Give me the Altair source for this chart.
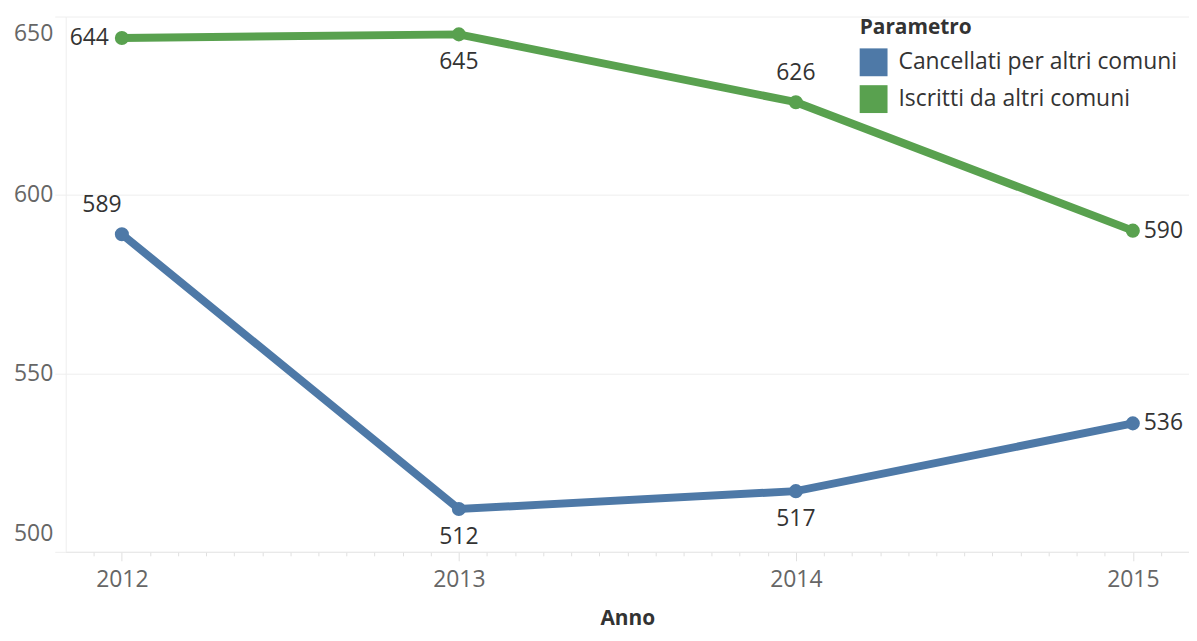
import altair as alt
import pandas as pd

years = [2012, 2013, 2014, 2015]
series_names = ["Cancellati per altri comuni", "Iscritti da altri comuni"]
cancellati = [589, 512, 517, 536]
iscritti = [644, 645, 626, 590]
colors = ["#4e79a7", "#59a14f"]

rows = []
for y, v in zip(years, cancellati):
    rows.append({"Anno": y, "Parametro": series_names[0], "Valore": v})
for y, v in zip(years, iscritti):
    rows.append({"Anno": y, "Parametro": series_names[1], "Valore": v})
df = pd.DataFrame(rows)

# monthly tick positions along the x axis
tick_values = [round(2011 + m / 12, 6) for m in range(10, 12)] + \
    [round(y + m / 12, 6) for y in range(2012, 2015) for m in range(12)] + \
    [round(2015 + m / 12, 6) for m in range(0, 3)]

FONT = "Open Sans"
is_year = "abs(datum.value - round(datum.value)) < 0.001"

x_enc = alt.X(
    "Anno:Q",
    scale=alt.Scale(domain=[2011 + 10 / 12, 2015 + 2 / 12], nice=False, zero=False),
    axis=alt.Axis(
        title="Anno",
        values=tick_values,
        labelExpr=f"{is_year} ? format(datum.value, 'd') : ''",
        grid=False,
        domain=True,
        domainColor="#e6e6e6",
        ticks=True,
        tickColor="#e0e0e0",
        tickSize={"condition": {"test": is_year, "value": 9}, "value": 4},
        labelPadding=8,
        labelFont=FONT,
        labelFontSize=23,
        labelColor="#666666",
        titleFont=FONT,
        titleFontSize=21,
        titleFontWeight="bold",
        titleColor="#333333",
        titlePadding=16,
        labelOverlap=False,
    ),
)
y_enc = alt.Y(
    "Valore:Q",
    scale=alt.Scale(domain=[500, 650], nice=False, zero=False),
    axis=alt.Axis(
        title=None,
        values=[500, 550, 600, 650],
        grid=True,
        gridColor="#eeeeee",
        domain=True,
        domainColor="#eeeeee",
        ticks=True,
        tickSize=11,
        tickColor="#eeeeee",
        labelPadding=2,
        labelFlush=True,
        labelFlushOffset=-6,
        labelFont=FONT,
        labelFontSize=23,
        labelColor="#666666",
    ),
)
color_enc = alt.Color(
    "Parametro:N",
    scale=alt.Scale(domain=series_names, range=colors),
    legend=alt.Legend(
        title="Parametro",
        orient="none",
        legendX=798,
        legendY=1,
        symbolType="square",
        symbolSize=784,
        symbolStrokeWidth=0,
        symbolOpacity=1,
        titleFont=FONT,
        titleFontSize=21,
        titleFontWeight="bold",
        titleColor="#333333",
        titlePadding=10,
        labelFont=FONT,
        labelFontSize=23,
        labelColor="#333333",
        labelLimit=400,
        rowPadding=9,
        labelOffset=11,
    ),
)

base = alt.Chart(df).encode(x=x_enc, y=y_enc, color=color_enc)

lines = base.mark_line(strokeWidth=8)
points = base.mark_circle(size=200, opacity=1)

txt = dict(font=FONT, fontSize=23, color="#333333", baseline="middle")

g = "datum.Parametro == 'Iscritti da altri comuni'"
b = "datum.Parametro == 'Cancellati per altri comuni'"

lab_left = base.mark_text(align="right", dx=-13, **txt).encode(
    text="Valore:Q", color=alt.value("#333333")
).transform_filter(f"{g} && datum.Anno == 2012")
lab_above_left = base.mark_text(align="center", dx=-20, dy=-29, **txt).encode(
    text="Valore:Q", color=alt.value("#333333")
).transform_filter(f"{b} && datum.Anno == 2012")
lab_above = base.mark_text(align="center", dy=-29, **txt).encode(
    text="Valore:Q", color=alt.value("#333333")
).transform_filter(f"{g} && datum.Anno == 2014")
lab_below = base.mark_text(align="center", dy=28, **txt).encode(
    text="Valore:Q", color=alt.value("#333333")
).transform_filter(f"({g} && datum.Anno == 2013) || ({b} && (datum.Anno == 2013 || datum.Anno == 2014))")
lab_right = base.mark_text(align="left", dx=11, **txt).encode(
    text="Valore:Q", color=alt.value("#333333")
).transform_filter("datum.Anno == 2015")

chart = alt.layer(
    lines, points, lab_left, lab_above_left, lab_above, lab_below, lab_right
).properties(
    width=1129,
    height=538,
    autosize=alt.AutoSizeParams(type="none"),
    padding={"left": 58, "top": 7, "right": 0, "bottom": 78},
).configure_view(stroke=None)

chart.save("out.html", embed_options={"renderer": "svg", "actions": False})
